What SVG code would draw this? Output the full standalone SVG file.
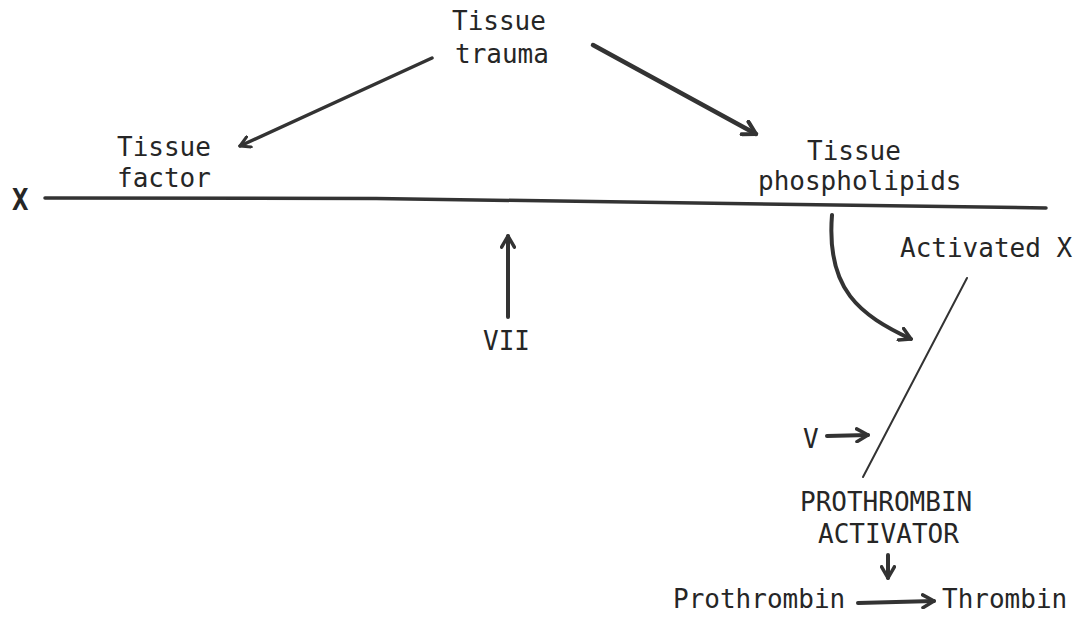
<svg xmlns="http://www.w3.org/2000/svg" width="1083" height="620" viewBox="0 0 1083 620">
<style>
text{font-family:"DejaVu Sans Mono","Liberation Mono",monospace;font-size:26px;fill:#262626}
.ln{fill:none;stroke:#333;stroke-linecap:round}
</style>
<defs>
<marker id="ah" viewBox="0 0 10 10" refX="8" refY="5" markerWidth="4" markerHeight="4" orient="auto" markerUnits="strokeWidth">
<polyline points="1,1 8,5 1,9" fill="none" stroke="#333" stroke-width="2.2" stroke-linecap="round" stroke-linejoin="round"/>
</marker>
</defs>
<rect width="1083" height="620" fill="#fff"/>
<g id="trauma"><text x="452" y="30">Tissue</text><text x="455" y="63">trauma</text></g>
<g id="factor"><text x="117" y="156">Tissue</text><text x="117" y="187">factor</text></g>
<g id="phospho"><text x="807" y="160">Tissue</text><text x="758" y="190">phospholipids</text></g>
<g id="x"><text transform="translate(12,210) scale(1.05,1.15)" style="font-weight:bold">X</text></g>
<g id="vii"><text x="483" y="350">VII</text></g>
<g id="actx"><text x="900" y="257">Activated X</text></g>
<g id="v"><text x="803" y="448">V</text></g>
<g id="pa"><text x="800" y="511">PROTHROMBIN</text><text x="818" y="543">ACTIVATOR</text></g>
<g id="prothrombin"><text x="673" y="608">Prothrombin</text></g>
<g id="thrombin"><text x="942" y="608">Thrombin</text></g>
<g id="connectors">
<path class="ln" d="M45 198 Q 360 199, 376 198.5 T 1046 208" stroke-width="3.5"/>
<line class="ln" x1="432" y1="58" x2="240" y2="146" stroke-width="3.5" marker-end="url(#ah)"/>
<line class="ln" x1="593" y1="45" x2="756" y2="134" stroke-width="4.5" marker-end="url(#ah)"/>
<line class="ln" x1="508" y1="317" x2="508" y2="236" stroke-width="4" marker-end="url(#ah)"/>
<path class="ln" d="M832 215 C 826 290, 860 315, 911 339" stroke-width="4" marker-end="url(#ah)"/>
<line class="ln" x1="967" y1="278" x2="863" y2="477" stroke-width="2"/>
<line class="ln" x1="827" y1="436" x2="868" y2="435" stroke-width="4" marker-end="url(#ah)"/>
<line class="ln" x1="888" y1="555" x2="888" y2="578" stroke-width="4" marker-end="url(#ah)"/>
<line class="ln" x1="858" y1="603" x2="934" y2="601" stroke-width="4" marker-end="url(#ah)"/>
</g>
</svg>
